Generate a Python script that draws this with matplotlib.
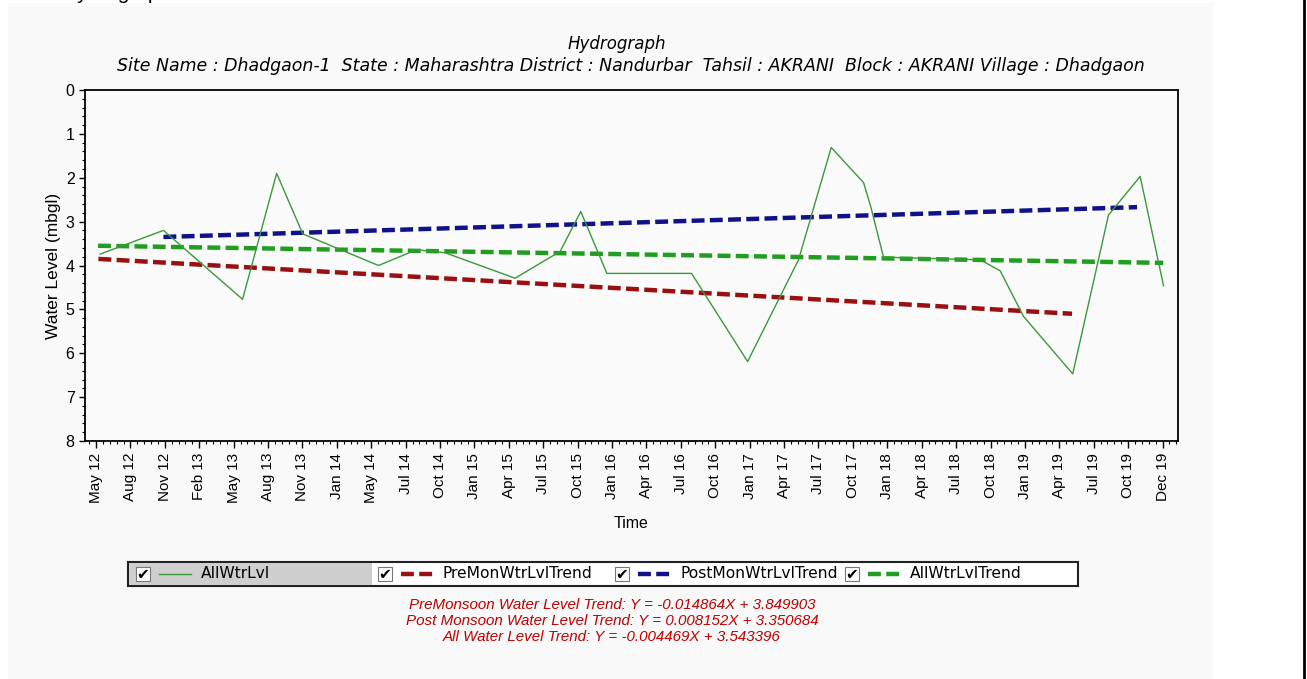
import numpy as np
import matplotlib.pyplot as plt
from matplotlib.patches import Rectangle
from matplotlib.lines import Line2D
from matplotlib.ticker import MultipleLocator

plt.rcParams['font.family'] = ['Liberation Sans', 'DejaVu Sans']

# tick labels along the time axis (evenly spaced)
tick_labels = ["May 12", "Aug 12", "Nov 12", "Feb 13", "May 13", "Aug 13", "Nov 13", "Jan 14",
               "May 14", "Jul 14", "Oct 14", "Jan 15", "Apr 15", "Jul 15", "Oct 15", "Jan 16",
               "Apr 16", "Jul 16", "Oct 16", "Jan 17", "Apr 17", "Jul 17", "Oct 17", "Jan 18",
               "Apr 18", "Jul 18", "Oct 18", "Jan 19", "Apr 19", "Jul 19", "Oct 19", "Dec 19"]

# observed water level (position in tick units, mbgl)
obs_t = [0.12, 1.96, 4.26, 5.25, 6.01, 8.21, 9.32, 10.15, 12.18, 13.49, 14.09, 14.85, 17.31,
         18.94, 20.42, 21.37, 22.31, 22.52, 22.89, 25.70, 26.28, 26.96, 28.39, 29.43, 30.35, 31.03]
obs_lvl = [3.74, 3.20, 4.77, 1.90, 3.28, 4.00, 3.64, 3.71, 4.29, 3.68, 2.77, 4.18, 4.18,
           6.19, 3.87, 1.31, 2.11, 2.66, 3.81, 3.87, 4.12, 5.16, 6.47, 2.85, 1.97, 4.46]

# trend lines (start / end)
pre_t, pre_lvl = [0.07, 28.37], [3.85, 5.10]
post_t, post_lvl = [1.96, 30.26], [3.35, 2.67]
all_t, all_lvl = [0.06, 31.02], [3.55, 3.94]

trend_text = ["PreMonsoon Water Level Trend: Y = -0.014864X + 3.849903",
              "Post Monsoon Water Level Trend: Y = 0.008152X + 3.350684",
              "All Water Level Trend: Y = -0.004469X + 3.543396"]

W, H = 1307, 679
fig = plt.figure(figsize=(W / 100, H / 100), dpi=100)
fig.patch.set_facecolor('white')


def fx(px):
    return px / W


def fy(py):
    return 1 - py / H


# gray panel + right border
fig.patches.append(Rectangle((fx(8), 0), fx(1213) - fx(8), fy(3), transform=fig.transFigure,
                             facecolor='#f9f9f9', edgecolor='none', zorder=-5))
fig.lines.append(Line2D([fx(1304), fx(1304)], [0, 1], transform=fig.transFigure, color='black', lw=2))

fig.text(fx(62), fy(-1), "Hydrograph", fontsize=15, va='baseline', ha='left', color='black')

ax = fig.add_axes([fx(85), fy(441), fx(1178) - fx(85), fy(90) - fy(441)])
ax.set_facecolor('#fafafa')
ax.set_zorder(1)

green_c, red_c, blue_c, tgreen_c = '#3a9a3a', '#9a1010', '#10128a', '#1f9e1f'
dash = (2.9, 1.2)
ax.plot(obs_t, obs_lvl, color=green_c, lw=1.0, zorder=4)
ax.plot(pre_t, pre_lvl, color=red_c, lw=3.2, dashes=dash, zorder=3)
ax.plot(post_t, post_lvl, color=blue_c, lw=3.2, dashes=dash, zorder=3)
ax.plot(all_t, all_lvl, color=tgreen_c, lw=3.2, dashes=dash, zorder=3)

ax.set_xlim(-0.32, 31.45)
ax.set_ylim(8, 0)
ax.set_xticks(np.arange(len(tick_labels)))
ax.set_xticklabels(tick_labels, rotation=90, fontsize=11)
ax.xaxis.set_minor_locator(MultipleLocator(0.2))
ax.set_yticks(range(0, 9))
ax.yaxis.set_minor_locator(MultipleLocator(0.2))
ax.tick_params(axis='y', labelsize=11.5, length=4, width=1)
ax.tick_params(axis='x', length=5, width=1)
ax.tick_params(which='minor', length=2.5, width=0.8)
for s in ax.spines.values():
    s.set_linewidth(1.3)

ax.set_ylabel("Water Level (mbgl)", fontsize=12.5, labelpad=3)
fig.text(fx(631), fy(523), "Time", fontsize=11.5, ha='center', va='center')

fig.text(fx(617), fy(44), "Hydrograph", fontsize=12, style='italic', ha='center', va='center',
         family='DejaVu Sans')
fig.text(fx(631), fy(66), "Site Name : Dhadgaon-1  State : Maharashtra District : Nandurbar  Tahsil : AKRANI  "
         "Block : AKRANI Village : Dhadgaon", fontsize=12.5, style='italic', ha='center', va='center',
         family='DejaVu Sans')

# legend box
fig.patches.append(Rectangle((fx(128), fy(586)), fx(1078) - fx(128), fy(562) - fy(586),
                             transform=fig.transFigure, facecolor='white', edgecolor='#222222', lw=1.5, zorder=2))
fig.patches.append(Rectangle((fx(129), fy(585)), fx(372) - fx(129), fy(563) - fy(585),
                             transform=fig.transFigure, facecolor='#cfcfcf', edgecolor='none', zorder=2))
entries = [(143, "AllWtrLvl", green_c, None, 1.0),
           (385, "PreMonWtrLvlTrend", red_c, dash, 3.2),
           (622, "PostMonWtrLvlTrend", blue_c, dash, 3.2),
           (852, "AllWtrLvlTrend", tgreen_c, dash, 3.2)]
for cx, lab, col, ds, lw in entries:
    fig.patches.append(Rectangle((fx(cx - 7), fy(581)), fx(14), fy(567) - fy(581), transform=fig.transFigure,
                                 facecolor='white', edgecolor='#777777', lw=0.8, zorder=3))
    fig.text(fx(cx), fy(575), "\u2714", fontsize=11, ha='center', va='center', family='DejaVu Sans',
             color='black', zorder=4)
    ln = Line2D([fx(cx + 16), fx(cx + 48)], [fy(574), fy(574)], transform=fig.transFigure,
                color=col, lw=lw, zorder=4)
    if ds:
        ln.set_dashes(ds)
    fig.lines.append(ln)
    fig.text(fx(cx + 58), fy(574), lab, fontsize=11.2, ha='left', va='center', zorder=4,
             family='DejaVu Sans')

for i, t in enumerate(trend_text):
    fig.text(fx(612), fy(605 + 16 * i), t, fontsize=10.9, style='italic', color='#c00000',
             ha='center', va='center')

fig.savefig("out.png", dpi=100)
